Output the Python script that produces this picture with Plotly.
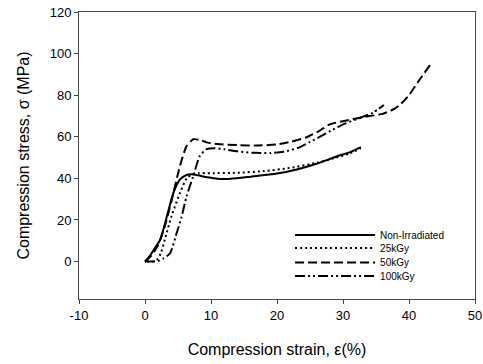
import plotly.graph_objects as go

# Data
ni_x = [0, 0.8, 1.5, 2.3, 3.3, 4.3, 5.3, 6.2, 7.0, 8.0, 9.5, 11.0, 13.0, 16.0, 20.0, 23.0, 26.0, 29.0, 31.0, 32.7]
ni_y = [0, 3, 6.5, 10.5, 21.5, 33, 39.5, 41.5, 42, 41.5, 40.5, 39.8, 39.8, 40.8, 42.3, 44.3, 47, 50.5, 52.5, 55]

k25_x = [0.3, 1.2, 1.8, 2.4, 3.0, 4.0, 5.3, 6.3, 7.2, 8.2, 10, 14, 18, 22, 26, 29, 31, 32.7]
k25_y = [0, 0, 0.8, 4, 10.5, 21.7, 33, 40, 42, 42.5, 42.5, 42.7, 43.5, 45, 47.5, 50, 52, 54.5]

k50_x = [0, 1, 2, 3, 4, 5.3, 6.3, 7.3, 8.3, 9.5, 11, 14, 17, 20, 22, 24.5, 26.5, 28, 30, 32, 34, 36, 37.5, 38.5, 40, 41.5, 43.3]
k50_y = [0, 3, 8, 17, 29, 46, 55.5, 58.8, 58.5, 57.2, 56.5, 56, 55.8, 56.3, 57.5, 59.8, 63, 66, 67.5, 68.8, 70, 71, 73, 75, 80, 87, 95]

k100_x = [0, 1, 2, 2.8, 3.8, 4.8, 5.5, 6.3, 7.3, 8.3, 9.3, 10.5, 12, 14, 16.5, 19, 21, 23.3, 25, 26.8, 28.5, 30.3, 32.8, 34.5, 36.2]
k100_y = [0, 0, 0.3, 1.5, 4, 13.7, 21, 31.4, 41, 50.7, 54, 54.5, 54, 53, 52.3, 52.2, 52.8, 54.8, 57.5, 60.5, 63.5, 66.3, 69.4, 71.5, 75.3]

series = [
    ("Non-Irradiated", ni_x, ni_y, "solid"),
    ("25kGy", k25_x, k25_y, "2px,3px"),
    ("50kGy", k50_x, k50_y, "9px,4px"),
    ("100kGy", k100_x, k100_y, "10px,3px,2px,3px,2px,3px"),
]

x_ticks = [-10, 0, 10, 20, 30, 40, 50]
x_tick_labels = ["-10", "0", "10", "20", "30", "40", "50"]
y_ticks = [0, 20, 40, 60, 80, 100, 120]
y_tick_labels = ["0", "20", "40", "60", "80", "100", "120"]

legend_names = ["legend", "legend2", "legend3", "legend4"]
legend_rows = [0.223, 0.178, 0.127, 0.080]

fig = go.Figure()
for (name, xs, ys, dash), lg in zip(series, legend_names):
    fig.add_trace(go.Scatter(
        x=xs, y=ys, name=name, mode="lines", legend=lg,
        line=dict(color="black", width=2, dash=dash, shape="spline", smoothing=0.6),
    ))

font_family = "Liberation Sans, Arial, sans-serif"
axis_common = dict(
    showgrid=False, zeroline=False, showline=True, linecolor="#444", linewidth=1,
    mirror=True, ticks="outside", ticklen=4, tickcolor="#444", automargin=False,
    ticklabeloverflow="allow",
    tickfont=dict(size=13, color="black", family=font_family),
)
fig.update_xaxes(range=[-10, 50], tickvals=x_ticks, ticktext=x_tick_labels,
                 title=dict(text="Compression strain, ε(%)", standoff=22,
                            font=dict(size=16, color="black", family=font_family)),
                 **axis_common)
fig.update_yaxes(range=[-18, 120], tickvals=y_ticks, ticktext=y_tick_labels,
                 title=dict(text="Compression stress, σ (MPa)", standoff=16,
                            font=dict(size=16, color="black", family=font_family)),
                 **axis_common)

layout_legends = {}
for lg, yrow in zip(legend_names, legend_rows):
    layout_legends[lg] = dict(
        x=0.533, y=yrow, xanchor="left", yanchor="middle",
        font=dict(size=10, color="black", family=font_family),
        bgcolor="rgba(0,0,0,0)", itemwidth=80,
    )

fig.update_layout(
    width=483, height=364,
    margin=dict(l=79, r=8, t=12, b=65, autoexpand=False),
    paper_bgcolor="white", plot_bgcolor="white",
    font=dict(family=font_family, color="black"),
    showlegend=True,
    **layout_legends,
)

# Remove the page's default body margin so the figure fills the window exactly.
fig.write_html("out.html", config={"displayModeBar": False},
               post_script="document.body.style.margin='0';")
